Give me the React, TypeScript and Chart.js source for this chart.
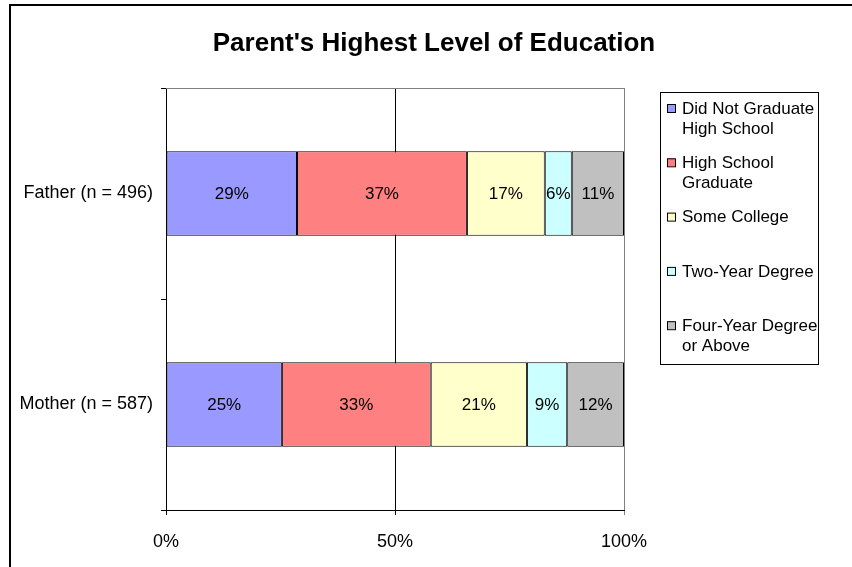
import React, { useEffect, useRef } from "react";
import { Chart, registerables } from "chart.js";

Chart.register(...registerables);

const TITLE = "Parent's Highest Level of Education";
const categories = ["Father (n = 496)", "Mother (n = 587)"];
const seriesNames = [
  "Did Not Graduate High School",
  "High School Graduate",
  "Some College",
  "Two-Year Degree",
  "Four-Year Degree or Above",
];
const didNotGraduate = [28.6, 25.3];
const highSchoolGraduate = [37.1, 32.5];
const someCollege = [17.0, 21.0];
const twoYearDegree = [5.9, 8.8];
const fourYearDegree = [11.4, 12.4];
const xTicks = [0, 50, 100];
const seriesColors = ["#9999FF", "#FF8080", "#FFFFCC", "#CCFFFF", "#C0C0C0"];

const FONT = '"Liberation Sans", Arial, sans-serif';

function wrapText(ctx: CanvasRenderingContext2D, text: string, maxW: number): string[] {
  const words = text.split(" ");
  const lines: string[] = [];
  let cur = "";
  for (const w of words) {
    const test = cur ? cur + " " + w : w;
    if (ctx.measureText(test).width > maxW && cur) {
      lines.push(cur);
      cur = w;
    } else cur = test;
  }
  if (cur) lines.push(cur);
  return lines;
}

const decorPlugin = {
  id: "decor",
  beforeDraw(chart: any) {
    const ctx = chart.ctx as CanvasRenderingContext2D;
    ctx.save();
    ctx.fillStyle = "#fff";
    ctx.fillRect(0, 0, chart.width, chart.height);
    // outer frame (top & left visible)
    ctx.strokeStyle = "#000";
    ctx.lineWidth = 2;
    ctx.beginPath();
    ctx.moveTo(10, chart.height);
    ctx.lineTo(10, 5);
    ctx.lineTo(chart.width, 5);
    ctx.stroke();
    // title
    ctx.fillStyle = "#000";
    ctx.font = `bold 26px ${FONT}`;
    ctx.textAlign = "center";
    ctx.textBaseline = "middle";
    ctx.fillText(TITLE, 434, 44);
    ctx.restore();
  },
  afterDraw(chart: any) {
    const ctx = chart.ctx as CanvasRenderingContext2D;
    const ca = chart.chartArea;
    ctx.save();
    // plot area top border
    ctx.strokeStyle = "#808080";
    ctx.lineWidth = 1;
    ctx.beginPath();
    ctx.moveTo(ca.left, ca.top + 0.5);
    ctx.lineTo(ca.right + 0.5, ca.top + 0.5);
    ctx.stroke();
    // data labels
    ctx.font = `17px ${FONT}`;
    ctx.fillStyle = "#000";
    ctx.textAlign = "center";
    ctx.textBaseline = "middle";
    chart.data.datasets.forEach((ds: any, i: number) => {
      const meta = chart.getDatasetMeta(i);
      meta.data.forEach((el: any, j: number) => {
        const v = ds.data[j];
        const cx = (el.x + el.base) / 2;
        ctx.fillText(Math.round(v) + "%", cx, el.y + 1);
      });
    });
    // legend
    const bx = 660.5, by = 92.5, bw = 158, bh = 272;
    ctx.strokeStyle = "#000";
    ctx.lineWidth = 1;
    ctx.strokeRect(bx, by, bw, bh);
    ctx.textAlign = "left";
    ctx.font = `17px ${FONT}`;
    seriesNames.forEach((name, i) => {
      const y0 = 108 + i * 54.3;
      ctx.fillStyle = seriesColors[i];
      ctx.fillRect(667, y0 - 4, 8, 8);
      ctx.strokeStyle = "#000";
      ctx.strokeRect(667.5, y0 - 3.5, 8, 8);
      ctx.fillStyle = "#000";
      const lines = wrapText(ctx, name, 136);
      lines.forEach((ln, k) => ctx.fillText(ln, 682, y0 + k * 20.5 + 1));
    });
    ctx.restore();
  },
};

export default function App() {
  const ref = useRef<HTMLCanvasElement>(null);
  useEffect(() => {
    if (!ref.current) return;
    const all = [didNotGraduate, highSchoolGraduate, someCollege, twoYearDegree, fourYearDegree];
    const chart = new Chart(ref.current, {
      type: "bar",
      data: {
        labels: categories,
        datasets: all.map((d, i) => ({
          label: seriesNames[i],
          data: d,
          backgroundColor: seriesColors[i],
          borderColor: "#000",
          borderWidth: 1,
          borderSkipped: false,
          barPercentage: 0.4,
          categoryPercentage: 1,
        })),
      },
      options: {
        indexAxis: "y",
        responsive: false,
        animation: false,
        events: [],
        layout: { padding: { left: 0, right: 228, top: 88, bottom: 0 } },
        plugins: { legend: { display: false }, title: { display: false }, tooltip: { enabled: false } },
        scales: {
          x: {
            stacked: true,
            min: 0,
            max: 100,
            afterBuildTicks: (s: any) => {
              s.ticks = xTicks.map((v) => ({ value: v }));
            },
            afterFit: (s: any) => {
              s.height = 57;
            },
            ticks: {
              callback: (v: any) => v + "%",
              font: { family: FONT, size: 18 },
              color: "#000",
              padding: 16,
              maxRotation: 0,
            },
            grid: {
              color: (c: any) => (c.tick && c.tick.value === 100 ? "#808080" : "#000"),
              lineWidth: 1,
              tickLength: 5,
            },
            border: { display: true, color: "#000", width: 1 },
          },
          y: {
            stacked: true,
            afterFit: (s: any) => {
              s.width = 166;
            },
            ticks: {
              font: { family: FONT, size: 18 },
              color: "#000",
              padding: 8,
            },
            grid: { drawOnChartArea: false, color: "#000", tickLength: 5, offset: true },
            border: { display: true, color: "#000", width: 1 },
          },
        },
      },
      plugins: [decorPlugin],
    } as any);
    return () => chart.destroy();
  }, []);
  return (
    <div style={{ position: "fixed", left: 0, top: 0, width: 852, height: 567 }}>
      <canvas ref={ref} width={852} height={567} style={{ display: "block" }} />
    </div>
  );
}
